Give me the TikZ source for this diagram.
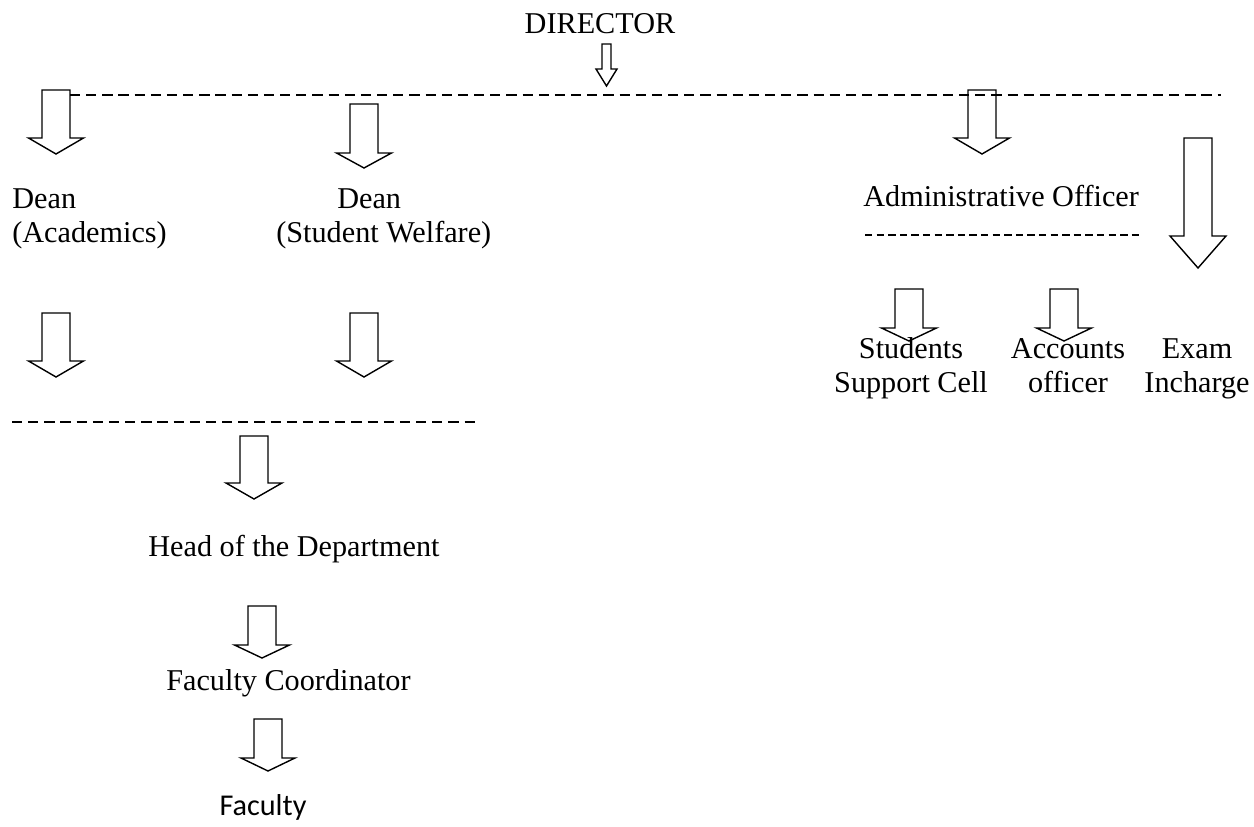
\documentclass[tikz,border=0pt]{standalone}
\usepackage{fontspec}
\setmainfont{Liberation Serif}
\newfontfamily\calibrifont{Carlito}
\tikzset{
    blockline/.style={line width=0.8pt, line join=miter},
    busline/.style={line width=1.4pt, dash pattern=on 5.8pt off 3.4pt},
    shortbus/.style={line width=1.1pt, dash pattern=on 4.2pt off 2.4pt},
    label/.style={font=\fontsize{17.2}{19.8}\selectfont, inner sep=0pt}
}
% cx, top, shaft bottom, tip, shaft half width, head half width
\newcommand{\downblock}[6]{%
    \draw[blockline] (#1-#5,#2) -- (#1+#5,#2) -- (#1+#5,#3) -- (#1+#6,#3)
        -- (#1,#4) -- (#1-#6,#3) -- (#1-#5,#3) -- cycle;}
\begin{document}
\begin{tikzpicture}[x=0.02cm,y=-0.02cm]
            \useasboundingbox (0,0) rectangle (1254,827);
            \begin{scope}[every node/.style={label}]
                \node[anchor=base] (director) at (600,34) {DIRECTOR};

                % two-line labels sit on their last line
                \node[anchor=base west, align=left] (deanAc) at (12,243) {Dean\\(Academics)};
                \node[anchor=base west, align=left] (deanSW) at (276,243) {\hspace*{1.22cm}Dean\\(Student Welfare)};

                \node[anchor=base west] (admin) at (863,207) {Administrative Officer};
                \node[anchor=base, align=center] (ssc) at (911,393) {Students\\Support Cell};
                \node[anchor=base, align=center] (acc) at (1068,393) {Accounts\\officer};
                \node[anchor=base, align=center] (exam) at (1197,393) {Exam\\Incharge};

                \node[anchor=base west] (hod) at (148,556) {Head of the Department};
                \node[anchor=base west] (fc) at (166,690) {Faculty Coordinator};
                \node[anchor=base, font=\calibrifont\fontsize{17.2}{19.8}\selectfont] (fac) at (263,815) {Faculty};
            \end{scope}
                \coordinate (topL) at (70,95);
                \coordinate (topR) at (1221,95);
                \coordinate (midL) at (12,422);
                \coordinate (midR) at (480,422);
                \coordinate (admL) at (865,235);
                \coordinate (admR) at (1139,235);
                \draw[busline] (topL) -- (topR);
                \draw[busline] (midL) -- (midR);
                \draw[shortbus] (admL) -- (admR);

                \downblock{606.5}{44}{69}{86}{4.5}{10.5}
                \downblock{56}{90}{138}{154}{14}{27.5}
                \downblock{364}{104}{153}{168}{14}{27.5}
                \downblock{982}{90}{138}{154}{14}{27.5}
                \downblock{1198}{138}{236}{268}{14}{28}
                \downblock{56}{313}{361}{377}{14}{27.5}
                \downblock{364}{313}{361}{377}{14}{27.5}
                \downblock{909}{289}{328}{341}{14}{27.5}
                \downblock{1064}{289}{328}{341}{14}{27.5}
                \downblock{254}{436}{483}{499}{14}{28}
                \downblock{262}{606}{645}{658}{14}{27.5}
                \downblock{268}{719}{758}{771}{14}{27}
            \end{tikzpicture}
\end{document}
